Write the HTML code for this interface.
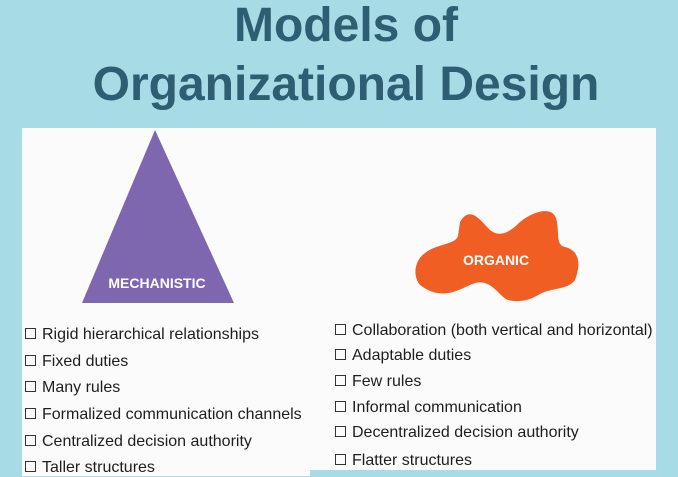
<!DOCTYPE html>
<html><head><meta charset="utf-8"><style>
body{margin:0;width:678px;height:476px;background:#a7dbe6;position:relative;overflow:hidden;font-family:"Liberation Sans",sans-serif}
.t{position:absolute;left:0;width:692px;text-align:center;color:#2e5e72;font-weight:bold;font-size:48px;line-height:52px}
.panel{position:absolute;left:22px;top:128px;width:634px;height:348px;background:#fbfbfb}
.blue{position:absolute;left:310px;top:470px;width:346px;height:6px;background:#a7dbe6}
.i{position:absolute;font-size:16px;color:#1e1e1e;white-space:nowrap}
.b{display:inline-block;width:9px;height:9px;border:1px solid #333;margin-right:6px;vertical-align:0px}
</style></head><body>
<div class="t" style="top:0px">Models of</div>
<div class="t" style="top:59px">Organizational Design</div>
<div class="panel"></div>
<div class="blue"></div>
<svg width="678" height="476" style="position:absolute;left:0;top:0">
<polygon points="155,130 82,303 234,303" fill="#7e67ae"/>
<text x="157" y="288" fill="#fff" font-size="14" font-weight="bold" text-anchor="middle" font-family="Liberation Sans">MECHANISTIC</text>
<path d="M460,222 C470,205 480,220 490,230 C500,238 510,232 520,222 C535,210 552,207 556,218 C560,232 555,245 565,247 C578,250 582,262 575,280 C568,290 550,288 540,294 C530,300 520,303 508,300 C498,296 490,275 470,285 C455,292 440,300 420,285 C412,275 415,260 425,253 C438,243 455,245 458,236 Z" fill="#f05e24"/>
<text x="496" y="265" fill="#fff" font-size="14" font-weight="bold" text-anchor="middle" font-family="Liberation Sans">ORGANIC</text>
</svg>
<div class="i" style="left:25px;top:326px"><span class="b"></span>Rigid hierarchical relationships</div>
<div class="i" style="left:25px;top:353px"><span class="b"></span>Fixed duties</div>
<div class="i" style="left:25px;top:379px"><span class="b"></span>Many rules</div>
<div class="i" style="left:25px;top:406px"><span class="b"></span>Formalized communication channels</div>
<div class="i" style="left:25px;top:433px"><span class="b"></span>Centralized decision authority</div>
<div class="i" style="left:25px;top:459px"><span class="b"></span>Taller structures</div>
<div class="i" style="left:335px;top:322px"><span class="b"></span>Collaboration (both vertical and horizontal)</div>
<div class="i" style="left:335px;top:347px"><span class="b"></span>Adaptable duties</div>
<div class="i" style="left:335px;top:373px"><span class="b"></span>Few rules</div>
<div class="i" style="left:335px;top:399px"><span class="b"></span>Informal communication</div>
<div class="i" style="left:335px;top:424px"><span class="b"></span>Decentralized decision authority</div>
<div class="i" style="left:335px;top:452px"><span class="b"></span>Flatter structures</div>
</body></html>
